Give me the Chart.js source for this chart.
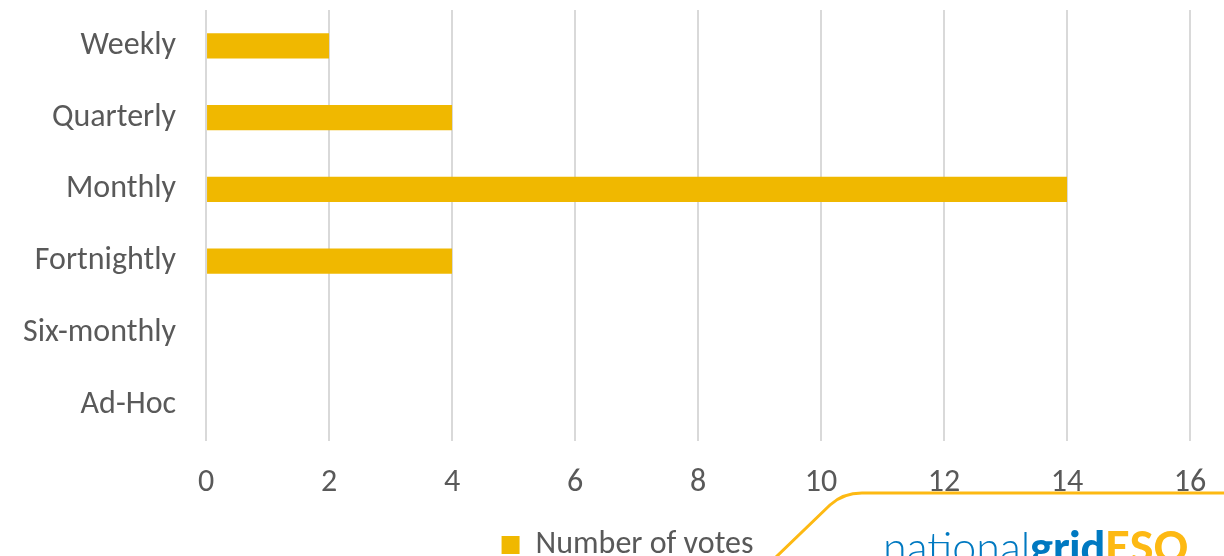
<!DOCTYPE html>
<html>
<head>
<meta charset="utf-8">
<script src="https://cdn.jsdelivr.net/npm/chart.js@4"></script>
<style>
  html, body { margin: 0; padding: 0; background: #ffffff; overflow: hidden; }
</style>
</head>
<body>
<canvas id="myChart" width="1224" height="556"></canvas>
<script>
const categories = ["Weekly", "Quarterly", "Monthly", "Fortnightly", "Six-monthly", "Ad-Hoc"];
const votes = [2, 4, 14, 4, 0, 0];
const seriesName = "Number of votes";

const colors = {
  bar: "#F0B800",
  grid: "#D9D9D9",
  text: "#595959",
  logoBlue: "#0079C1",
  logoYellow: "#FDB913",
};

const fontFamily = "Carlito, Calibri, Lato, 'Open Sans', sans-serif";
const fontSize = 32;

// logo in the corner, just decoration
const logoPlugin = {
  id: "logo",
  afterLayout(chart) {
    // nudge the legend a bit right, like the excel one
    chart.legend.left += 36;
    chart.legend.right += 36;
  },
  afterDraw(chart) {
    const ctx = chart.ctx;
    ctx.save();
    ctx.strokeStyle = colors.logoYellow;
    ctx.lineWidth = 3;
    ctx.beginPath();
    ctx.moveTo(775, 558);
    ctx.lineTo(830, 505);
    ctx.quadraticCurveTo(843, 493, 862, 493);
    ctx.lineTo(1224, 493);
    ctx.stroke();

    ctx.textBaseline = "alphabetic";
    let x = 883;
    const y = 563;
    ctx.font = "300 43px Lato, sans-serif";
    ctx.fillStyle = colors.logoBlue;
    ctx.fillText("national", x, y);
    x += ctx.measureText("national").width;
    ctx.font = "900 43px Lato, sans-serif";
    ctx.fillText("grid", x, y);
    x += ctx.measureText("grid").width;
    ctx.fillStyle = colors.logoYellow;
    ctx.fillText("ESO", x, y);
    ctx.restore();
  },
};

const chart_ctx = document.getElementById("myChart");
const myChart = new Chart(chart_ctx, {
  type: "bar",
  data: {
    labels: categories,
    datasets: [
      {
        label: seriesName,
        data: votes,
        backgroundColor: colors.bar,
        borderWidth: 0,
        barPercentage: 0.35,
        categoryPercentage: 1,
      },
    ],
  },
  options: {
    indexAxis: "y",
    responsive: false,
    animation: false,
    devicePixelRatio: 1,
    layout: { padding: { top: 10, right: 34, left: -7, bottom: -15 } },
    scales: {
      x: {
        min: 0,
        max: 16,
        ticks: {
          stepSize: 2,
          color: colors.text,
          font: { family: fontFamily, size: fontSize },
          padding: 23,
          maxRotation: 0,
        },
        grid: { color: colors.grid, lineWidth: 2, drawTicks: false },
        border: { display: false },
        afterFit(scale) {
          scale.paddingLeft = 0;
          scale.paddingRight = 0;
          scale.height -= 4;
        },
      },
      y: {
        ticks: {
          color: colors.text,
          font: { family: fontFamily, size: fontSize },
          padding: 30,
        },
        grid: { display: false, drawTicks: false },
        border: { display: false },
        afterFit(scale) {
          scale.paddingTop = 0;
          scale.paddingBottom = 0;
        },
      },
    },
    plugins: {
      legend: {
        position: "bottom",
        labels: {
          color: colors.text,
          font: { family: fontFamily, size: fontSize },
          boxWidth: 18,
          boxHeight: 18,
          padding: 8,
        },
      },
      tooltip: { enabled: false },
    },
  },
  plugins: [logoPlugin],
});
</script>
</body>
</html>
